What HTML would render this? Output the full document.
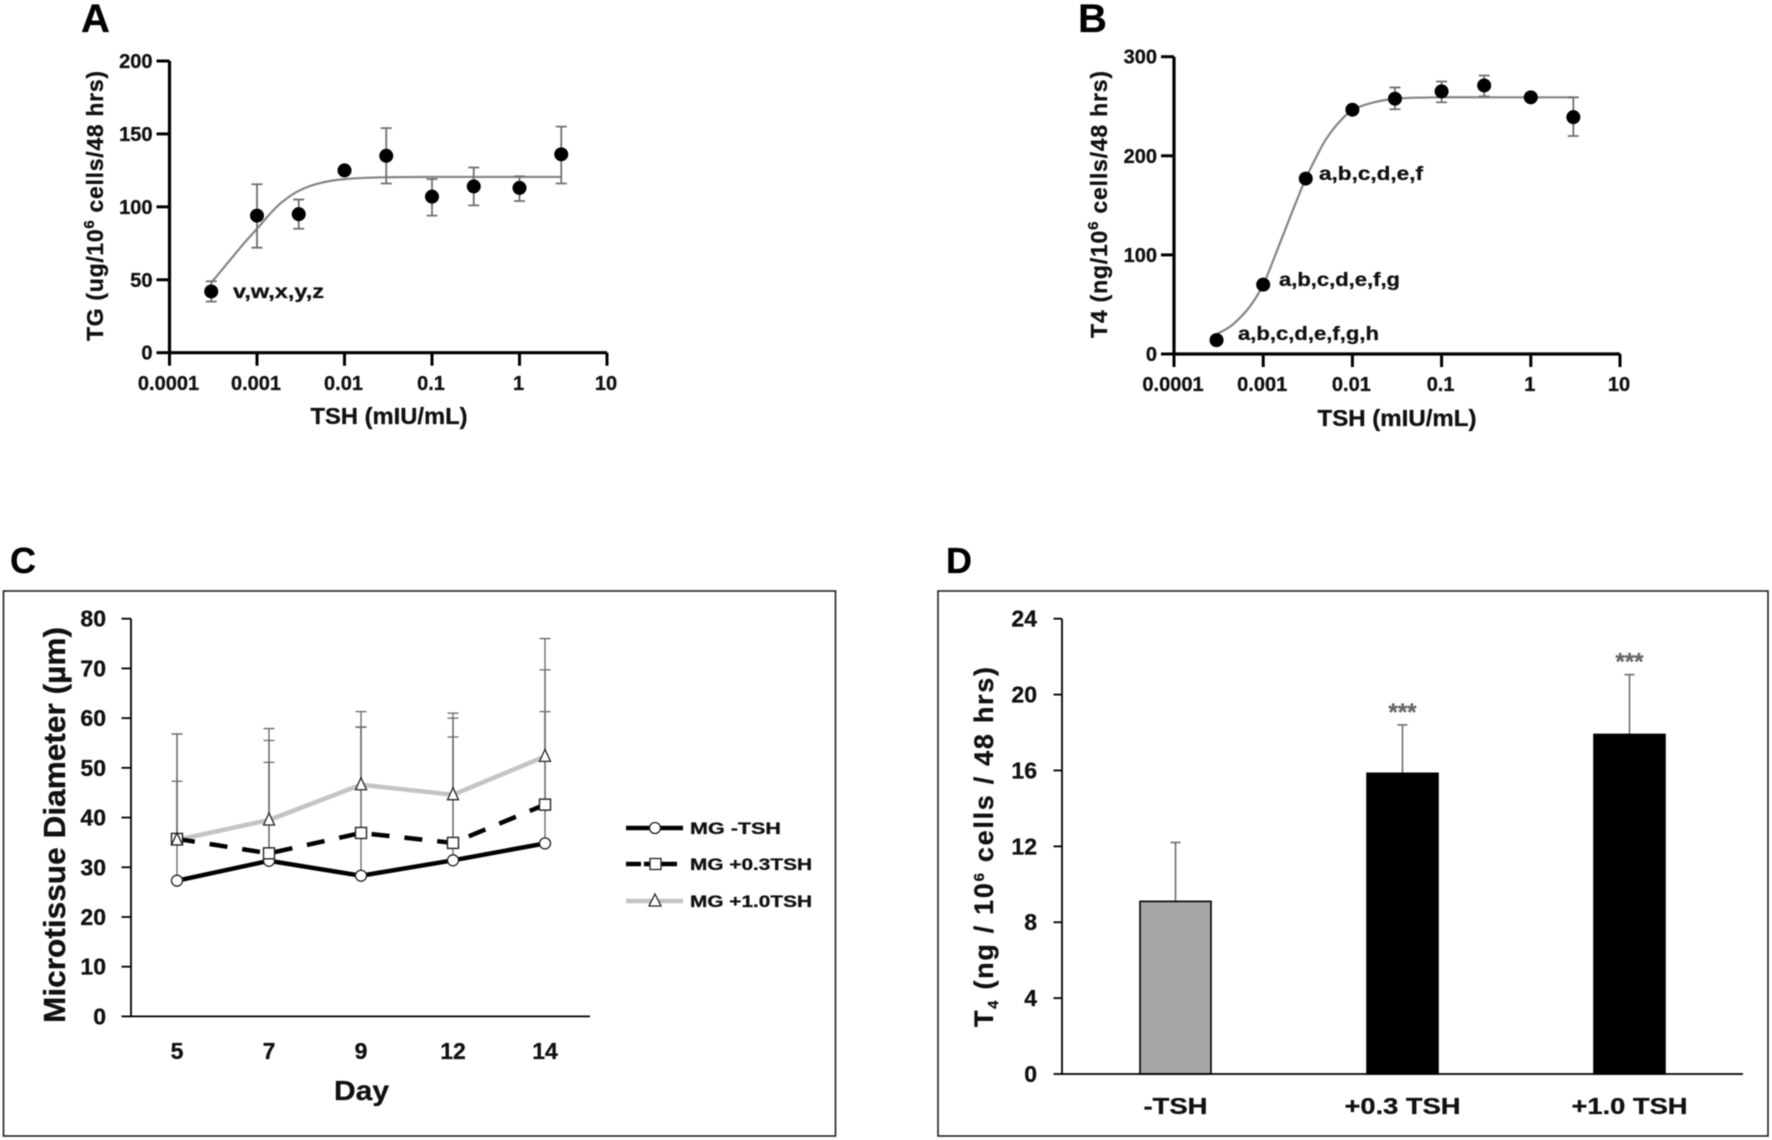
<!DOCTYPE html>
<html lang="en">
<head>
<meta charset="utf-8">
<title>Thyroid microtissue TSH response panels</title>
<style>
html,body{margin:0;padding:0;background:#fff}
svg{display:block;font-family:"Liberation Sans",Arial,sans-serif;font-weight:bold;fill:#111;filter:blur(0.5px)}
text{stroke:#111;stroke-width:.3px}
text.sig{stroke:#666}
</style>
</head>
<body>
<svg id="fig" xmlns="http://www.w3.org/2000/svg" width="1772" height="1140" viewBox="0 0 1772 1140">
  <rect x="0" y="0" width="1772" height="1140" fill="#fff"/>

  <text x="81" y="32" font-size="40" fill="#000">A</text>
  <text x="1078" y="32" font-size="40" fill="#000">B</text>
  <text x="10" y="573" font-size="36" fill="#000">C</text>
  <text x="946" y="573" font-size="36" fill="#000">D</text>

  <rect x="3.5" y="591" width="832" height="545" fill="none" stroke="#222" stroke-width="1.6"/>
  <rect x="938" y="591" width="830" height="545" fill="none" stroke="#222" stroke-width="1.6"/>

  <g id="panel-a"></g>
  <g id="panel-b"></g>
  <g id="panel-c"></g>
  <g id="panel-d"></g>

  <text x="389" y="424" font-size="23" text-anchor="middle" textLength="157" lengthAdjust="spacingAndGlyphs">TSH (mIU/mL)</text>
  <text transform="translate(103,341) rotate(-90)" font-size="23" textLength="270" lengthAdjust="spacing">TG (ug/10<tspan font-size="15" dy="-9">6</tspan><tspan dy="9"> cells/48 hrs)</tspan></text>
  <text x="233" y="298" font-size="19" textLength="91" lengthAdjust="spacingAndGlyphs">v,w,x,y,z</text>

  <text x="1397" y="426" font-size="23" text-anchor="middle" textLength="159" lengthAdjust="spacingAndGlyphs">TSH (mIU/mL)</text>
  <text transform="translate(1107,338) rotate(-90)" font-size="23" textLength="267" lengthAdjust="spacing">T4 (ng/10<tspan font-size="15" dy="-9">6</tspan><tspan dy="9"> cells/48 hrs)</tspan></text>
  <text x="1238" y="340" font-size="19" textLength="141" lengthAdjust="spacingAndGlyphs">a,b,c,d,e,f,g,h</text>
  <text x="1279" y="286" font-size="19" textLength="121" lengthAdjust="spacingAndGlyphs">a,b,c,d,e,f,g</text>
  <text x="1319" y="180" font-size="19" textLength="104" lengthAdjust="spacingAndGlyphs">a,b,c,d,e,f</text>

  <text x="361.5" y="1100" font-size="28" text-anchor="middle" textLength="55" lengthAdjust="spacingAndGlyphs">Day</text>
  <text transform="translate(65,1023) rotate(-90)" font-size="31" textLength="396" lengthAdjust="spacingAndGlyphs">Microtissue Diameter (µm)</text>

  <text transform="translate(993,1027) rotate(-90)" font-size="27" textLength="360" lengthAdjust="spacing">T<tspan font-size="15" dy="5">4</tspan><tspan dy="-5"> (ng / 10</tspan><tspan font-size="15" dy="-9">6</tspan><tspan dy="9"> cells / 48 hrs)</tspan></text>

  <g>
    <g>
      <line x1="626" y1="828" x2="683" y2="828" stroke="#000" stroke-width="4.5"/>
      <circle cx="655" cy="828" r="5.5" fill="#fff" stroke="#222" stroke-width="1.3"/>
      <text x="690" y="834" font-size="17" textLength="91" lengthAdjust="spacingAndGlyphs">MG -TSH</text>
    </g>
    <g>
      <line x1="626" y1="864" x2="677" y2="864" stroke="#000" stroke-width="4.5" stroke-dasharray="15 3 33 100"/>
      <rect x="650" y="858.5" width="11" height="11" fill="#fff" stroke="#222" stroke-width="1.3"/>
      <text x="690" y="870" font-size="17" textLength="122" lengthAdjust="spacingAndGlyphs">MG +0.3TSH</text>
    </g>
    <g>
      <line x1="626" y1="901" x2="683" y2="901" stroke="#c4c4c4" stroke-width="4.5"/>
      <polygon points="655,894 661,906 649,906" fill="#fff" stroke="#222" stroke-width="1.3"/>
      <text x="690" y="907" font-size="17" textLength="122" lengthAdjust="spacingAndGlyphs">MG +1.0TSH</text>
    </g>
  </g>
</svg>

<script>
/* Panel A data */
const doseTicks = [0.0001, 0.001, 0.01, 0.1, 1, 10];
const doseTickLabels = ['0.0001', '0.001', '0.01', '0.1', '1', '10'];
const doses = [0.0003, 0.001, 0.003, 0.01, 0.03, 0.1, 0.3, 1, 3];
const tgTicks = [0, 50, 100, 150, 200];
const tgValues = [42, 94, 95, 125, 135, 107, 114, 113, 136];
const tgLower = [35, 72, 85, null, 116, 94, 101, 104, 116];
const tgUpper = [49, 115.5, 105, null, 154, 119, 127, 121, 155];
const tgCurveDoses = [0.0003, 0.0005, 0.00071, 0.001, 0.0015, 0.002, 0.003, 0.005, 0.01, 0.03, 0.1, 0.3, 1, 3];
const tgCurveValues = [48, 64, 75, 85, 97, 104, 111, 116, 119, 120.3, 120.5, 120.5, 120.5, 120.5];

/* Panel B data */
const t4Ticks = [0, 100, 200, 300];
const t4Values = [14, 70, 177, 246.5, 257.6, 265, 271, 259, 239];
const t4Lower = [null, null, null, null, 247, 254, 260, null, 220];
const t4Upper = [null, null, null, null, 269, 275, 281, null, 259];
const t4CurveDoses = [0.0003, 0.0004, 0.0005, 0.00071, 0.001, 0.00141, 0.002, 0.003, 0.004, 0.005, 0.0071, 0.01, 0.0158, 0.03, 0.1, 0.3, 1, 3];
const t4CurveValues = [20, 26, 33, 48, 70, 103, 138, 177, 200, 216, 234, 246, 253, 257.6, 259, 259, 259, 259];

/* Panel C data */
const days = ['5', '7', '9', '12', '14'];
const diameterTicks = [0, 10, 20, 30, 40, 50, 60, 70, 80];
const noTshMeans = [27.3, 31.3, 28.3, 31.4, 34.8];
const lowTshMeans = [35.7, 32.8, 36.9, 34.9, 42.6];
const highTshMeans = [35.5, 39.5, 46.6, 44.6, 52.3];
const noTshUpper = [47.3, 51.1, 58.2, 56.2, 61.3];
const lowTshUpper = [56.8, 55.5, 58.2, 60, 69.7];
const highTshUpper = [56.8, 57.9, 61.3, 61, 76];

/* Panel D data */
const treatments = ['-TSH', '+0.3 TSH', '+1.0 TSH'];
const treatmentLabelWidths = [64, 116, 116];
const t4OutputTicks = [0, 4, 8, 12, 16, 20, 24];
const t4OutputValues = [9.1, 15.85, 17.9];
const t4OutputUpper = [12.2, 18.4, 21.05];
const significance = ['', '***', '***'];

const NS = 'http://www.w3.org/2000/svg';
function make(parent, tag, attrs, text) {
  const el = document.createElementNS(NS, tag);
  for (const k in attrs) el.setAttribute(k, attrs[k]);
  if (text !== undefined) el.textContent = text;
  parent.appendChild(el);
  return el;
}
function smoothPath(pts) {
  let d = 'M' + pts[0][0] + ',' + pts[0][1];
  for (let i = 0; i < pts.length - 1; i++) {
    const p0 = pts[Math.max(i - 1, 0)], p1 = pts[i], p2 = pts[i + 1], p3 = pts[Math.min(i + 2, pts.length - 1)];
    const h = p2[0] - p1[0];
    const m1 = (p2[1] - p0[1]) / Math.max(p2[0] - p0[0], 1e-6);
    const m2 = (p3[1] - p1[1]) / Math.max(p3[0] - p1[0], 1e-6);
    d += 'C' + (p1[0] + h / 3) + ',' + (p1[1] + m1 * h / 3) + ' ' + (p2[0] - h / 3) + ',' + (p2[1] - m2 * h / 3) + ' ' + p2[0] + ',' + p2[1];
  }
  return d;
}
function linearY(v, y0, yTop, max) { return y0 + (yTop - y0) * v / max; }

function drawDosePanel(gId, cfg) {
  const g = document.getElementById(gId);
  const xOf = d => cfg.x0 + Math.log10(d / 0.0001) * cfg.decade;
  const yOf = v => linearY(v, cfg.y0, cfg.yTop, cfg.maxY);

  const curve = make(g, 'path', { d: smoothPath(cfg.curveDoses.map((d, i) => [xOf(d), yOf(cfg.curveValues[i])])), fill: 'none', stroke: '#858585', 'stroke-width': 2.2 });
  
  

  doses.forEach((d, i) => {
    if (cfg.lower[i] !== null) {
      const bar = make(g, 'path', {
        d: 'M' + (xOf(d) - 5.5) + ',' + yOf(cfg.upper[i]) + 'h11M' + xOf(d) + ',' + yOf(cfg.upper[i]) + 'V' + yOf(cfg.lower[i]) + 'M' + (xOf(d) - 5.5) + ',' + yOf(cfg.lower[i]) + 'h11',
        fill: 'none', stroke: '#707070', 'stroke-width': 1.8
      });
      
      
    }
  });
  doses.forEach((d, i) => {
    const pt = make(g, 'circle', { cx: xOf(d), cy: yOf(cfg.values[i]), r: 7, fill: '#000' });
    
    
  });

  const axes = make(g, 'path', { d: 'M' + cfg.x0 + ',' + cfg.yTop + 'V' + cfg.y0 + 'H' + xOf(10), fill: 'none', stroke: '#000', 'stroke-width': 3.2 });
  
  

  cfg.yTicks.forEach(v => {
    const t = make(g, 'line', { x1: cfg.x0 - 13, x2: cfg.x0, y1: yOf(v), y2: yOf(v), stroke: '#000', 'stroke-width': 3 });
    
    
    const l = make(g, 'text', { x: cfg.x0 - 17, y: yOf(v) + 7, 'font-size': 20, 'text-anchor': 'end' }, String(v));
    
    
  });
  doseTicks.forEach((d, i) => {
    const t = make(g, 'line', { x1: xOf(d), x2: xOf(d), y1: cfg.y0, y2: cfg.y0 + 13, stroke: '#000', 'stroke-width': 3 });
    
    
    const l = make(g, 'text', { x: xOf(d) - 1, y: cfg.tickBase, 'font-size': 20, 'text-anchor': 'middle' }, doseTickLabels[i]);
    
    
  });
}

drawDosePanel('panel-a', { x0: 169.5, decade: 87.5, y0: 352.7, yTop: 61, maxY: 200, yTicks: tgTicks, values: tgValues, lower: tgLower, upper: tgUpper, curveDoses: tgCurveDoses, curveValues: tgCurveValues, tickBase: 390 });
drawDosePanel('panel-b', { x0: 1174, decade: 89.2, y0: 354, yTop: 56.7, maxY: 300, yTicks: t4Ticks, values: t4Values, lower: t4Lower, upper: t4Upper, curveDoses: t4CurveDoses, curveValues: t4CurveValues, tickBase: 391 });

/* Panel C */
(function () {
  const g = document.getElementById('panel-c');
  const x0 = 131, y0 = 1016.4, yTop = 618.7, band = 92;
  const xOf = i => x0 + band * (i + 0.5);
  const yOf = v => linearY(v, y0, yTop, 80);

  [noTshUpper, lowTshUpper, highTshUpper].forEach((upper, s) => {
    const means = [noTshMeans, lowTshMeans, highTshMeans][s];
    upper.forEach((u, i) => {
      const bar = make(g, 'path', { d: 'M' + (xOf(i) - 5.5) + ',' + yOf(u) + 'h11M' + xOf(i) + ',' + yOf(u) + 'V' + yOf(means[i]), fill: 'none', stroke: '#666', 'stroke-width': 1.3 });
      
      
    });
  });

  const linePts = m => m.map((v, i) => xOf(i) + ',' + yOf(v)).join(' ');
  const highLine = make(g, 'polyline', { points: linePts(highTshMeans), fill: 'none', stroke: '#c4c4c4', 'stroke-width': 4.5 });
  
  
  const noLine = make(g, 'polyline', { points: linePts(noTshMeans), fill: 'none', stroke: '#000', 'stroke-width': 4.5 });
  
  
  const lowLine = make(g, 'polyline', { points: linePts(lowTshMeans), fill: 'none', stroke: '#000', 'stroke-width': 4.5, 'stroke-dasharray': '18 15' });
  
  

  noTshMeans.forEach((v, i) => {
    const m = make(g, 'circle', { cx: xOf(i), cy: yOf(v), r: 5.5, fill: '#fff', stroke: '#222', 'stroke-width': 1.3 });
    
    
  });
  lowTshMeans.forEach((v, i) => {
    const m = make(g, 'rect', { x: xOf(i) - 5.5, y: yOf(v) - 5.5, width: 11, height: 11, fill: '#fff', stroke: '#222', 'stroke-width': 1.4 });
    
    
  });
  highTshMeans.forEach((v, i) => {
    const cx = xOf(i), cy = yOf(v);
    const m = make(g, 'polygon', { points: cx + ',' + (cy - 7) + ' ' + (cx + 5.5) + ',' + (cy + 5) + ' ' + (cx - 5.5) + ',' + (cy + 5), fill: '#fff', stroke: '#222', 'stroke-width': 1.3 });
    
    
  });

  const axes = make(g, 'path', { d: 'M' + x0 + ',' + yTop + 'V' + y0 + 'H590', fill: 'none', stroke: '#000', 'stroke-width': 1.8 });
  
  
  diameterTicks.forEach(v => {
    const t = make(g, 'line', { x1: x0 - 9.5, x2: x0, y1: yOf(v), y2: yOf(v), stroke: '#000', 'stroke-width': 1.8 });
    
    
    const l = make(g, 'text', { x: 106, y: yOf(v) + 8, 'font-size': 23, 'text-anchor': 'end' }, String(v));
    
    
  });
  days.forEach((d, i) => {
    const l = make(g, 'text', { x: xOf(i), y: 1059, 'font-size': 23, 'text-anchor': 'middle' }, d);
    
    
  });
})();

/* Panel D */
(function () {
  const g = document.getElementById('panel-d');
  const x0 = 1062, y0 = 1074, yTop = 618.7, band = 227, barW = 71;
  const xOf = i => x0 + band * (i + 0.5);
  const yOf = v => linearY(v, y0, yTop, 24);

  t4OutputUpper.forEach((u, i) => {
    const bar = make(g, 'path', { d: 'M' + (xOf(i) - 5) + ',' + yOf(u) + 'h10M' + xOf(i) + ',' + yOf(u) + 'V' + yOf(t4OutputValues[i]), fill: 'none', stroke: '#666', 'stroke-width': 1.5 });
    
    
    if (significance[i]) {
      const s = make(g, 'text', { class: 'sig', x: xOf(i), y: yOf(u) - 5, 'font-size': 24, 'text-anchor': 'middle', fill: '#666' }, significance[i]);
      
      
    }
  });
  t4OutputValues.forEach((v, i) => {
    const b = make(g, 'rect', { x: xOf(i) - barW / 2, y: yOf(v), width: barW, height: yOf(0) - yOf(v), fill: i === 0 ? '#a6a6a6' : '#000', stroke: '#000', 'stroke-width': 1.6 });
    
    
  });
  const axes = make(g, 'path', { d: 'M' + x0 + ',' + yTop + 'V' + y0 + 'H1743', fill: 'none', stroke: '#000', 'stroke-width': 1.8 });
  
  
  t4OutputTicks.forEach(v => {
    const t = make(g, 'line', { x1: x0 - 8.5, x2: x0, y1: yOf(v), y2: yOf(v), stroke: '#000', 'stroke-width': 1.8 });
    
    
    const l = make(g, 'text', { x: 1037, y: yOf(v) + 8, 'font-size': 23, 'text-anchor': 'end' }, String(v));
    
    
  });
  treatments.forEach((c, i) => {
    const l = make(g, 'text', { x: xOf(i), y: 1114, 'font-size': 23, 'text-anchor': 'middle', textLength: treatmentLabelWidths[i], lengthAdjust: 'spacingAndGlyphs' }, c);
    
    
  });
})();
</script>
</body>
</html>
